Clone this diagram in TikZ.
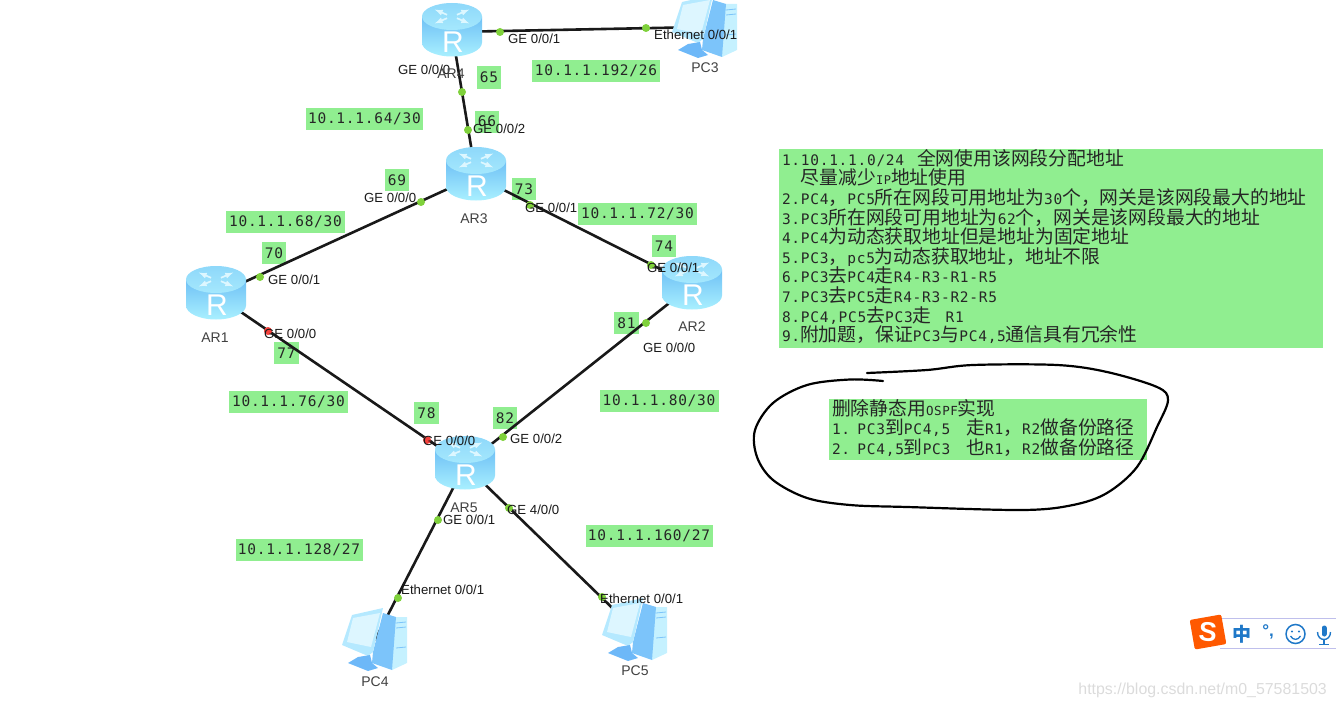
\documentclass[tikz,border=0pt]{standalone}
\usepackage{fontspec}
\setmainfont{Liberation Sans}
\newfontfamily\cjk{Noto Sans CJK SC}
\newfontfamily\monof[LetterSpace=5]{DejaVu Sans Mono}
\setlength{\lineskiplimit}{-100pt}
\newcommand\C[1]{{\cjk\fontsize{18.8}{19.5}\selectfont #1}}
\definecolor{lab}{HTML}{90EE90}
\definecolor{portg}{HTML}{7FD13B}
\definecolor{portr}{HTML}{F5413C}
\definecolor{pcmid}{HTML}{7CC4FA}
\definecolor{pcdark}{HTML}{6DB8F8}
\definecolor{pcframe}{HTML}{B5E9FF}
\definecolor{pcscreen}{HTML}{DDF6FF}
\definecolor{pctower}{HTML}{C5F1FF}
\definecolor{imeblue}{HTML}{1F78C8}
\definecolor{rtop}{HTML}{6FC0F5}
\definecolor{rbot}{HTML}{A9F0FF}
\definecolor{rlid}{HTML}{A5E8FD}
\definecolor{rlidb}{HTML}{8ED8FA}
\definecolor{rarrow}{HTML}{DDF7FF}
\tikzset{
  x=1pt,y=-1pt,
  glab/.style={fill=lab,inner sep=0pt,minimum height=22pt,text=black!85,font=\monof\fontsize{14.5}{18}\selectfont},
  gshort/.style={glab,minimum width=24.5pt},
  glong/.style={glab,minimum width=119pt},
  gxlong/.style={glab,minimum width=127pt},
  port/.style={anchor=west,inner sep=0pt,text=black!90,font=\fontsize{13.2}{15}\selectfont},
  devname/.style={inner sep=0pt,text=black!75,font=\fontsize{14}{16}\selectfont},
  holder/.style={inner sep=0pt,minimum width=60pt,minimum height=54pt},
  pcholder/.style={inner sep=0pt,minimum width=65pt,minimum height=62pt},
  link/.style={draw=black!90,line width=2.6pt},
  okdot/.style={circle,fill=portg,inner sep=0pt,minimum size=8pt},
  baddot/.style={circle,fill=portr,inner sep=0pt,minimum size=8pt},
  routericon/.pic={
    \path[top color=rtop,bottom color=rbot]
      (-30,-15.5) -- (-30,10.5) arc[start angle=180,end angle=0,x radius=30,y radius=14] -- (30,-15.5) -- cycle;
    \path[top color=rlidb,bottom color=rlid] (0,-15.5) ellipse[x radius=30,y radius=13.5];
    \foreach \a in {35,145,215,325}{
      \draw[rarrow,line width=1.7pt,-latex] ({6*cos(\a)},{-15.5+3*sin(\a)}) -- ({21*cos(\a)},{-15.5+12*sin(\a)});
    }
    \node[white,inner sep=0pt,font=\fontsize{30}{30}\selectfont] at (1,10) {R};
  },
  pcicon/.pic={
    \fill[pctower] (18,-23) -- (32,-23) -- (32,23) -- (17,30) -- cycle;
    \fill[pcmid] (8,-27) -- (21,-23) -- (17,30) -- (-3,23) -- (-2,12) -- cycle;
    \fill[pcframe] (-33,5) -- (-23,-25) -- (8,-32) -- (-2,12) -- (-7,16) -- cycle;
    \fill[pcscreen] (-28,2) -- (-22,-22) -- (5,-27) -- (-4,7) -- cycle;
    \draw[pcmid,line width=.8pt] (21,-17) -- (31,-18) (21,-12) -- (31,-13) (21,8) -- (31,7);
    \fill[pcdark] (-27,23) -- (-17,17) -- (-5,15) -- (-3,23) -- (3,28) -- (-7,31) -- cycle;
  },
}
\begin{document}
\begin{tikzpicture}
\useasboundingbox (0,0) rectangle (1336,709);
\clip (0,0) rectangle (1336,709);

% subnet and address tags
\node[glong,minimum width=128pt] (s192) at (596,71) {10.1.1.192/26};
\node[gshort] (a65) at (489,77.5) {65};
\node[glong,minimum width=117pt] (s64) at (364.5,118.5) {10.1.1.64/30};
\node[gshort] (a66) at (487,121.5) {66};
\node[gshort] (a69) at (397,180) {69};
\node[gshort] (a73) at (524,189) {73};
\node[glong] (s72) at (637.5,214) {10.1.1.72/30};
\node[glong] (s68) at (285.5,222) {10.1.1.68/30};
\node[gshort] (a70) at (274,253) {70};
\node[gshort] (a74) at (664,246) {74};
\node[gshort] (a81) at (626.5,323) {81};
\node[gshort] (a77) at (286.5,353) {77};
\node[glong] (s76) at (288.5,402) {10.1.1.76/30};
\node[glong] (s80) at (659,401) {10.1.1.80/30};
\node[gshort] (a78) at (426.5,413) {78};
\node[gshort] (a82) at (505,418) {82};
\node[gxlong] (s128) at (299,550) {10.1.1.128/27};
\node[gxlong] (s160) at (649,535.5) {10.1.1.160/27};

% device holders
\node[holder] (AR4) at (452,32) {};
\node[holder] (AR3) at (476,176) {};
\node[holder] (AR1) at (216,295) {};
\node[holder] (AR2) at (692,285) {};
\node[holder] (AR5) at (465,465) {};
\node[pcholder] (PC3) at (705,27) {};
\node[pcholder] (PC4) at (375,640) {};
\node[pcholder] (PC5) at (635,630) {};

% links
\draw[link] (AR4.center) -- (PC3.center);
\draw[link] (AR4.center) -- (AR3.center);
\draw[link] (AR3.center) -- (AR1.center);
\draw[link] (AR3.center) -- (AR2.center);
\draw[link] (AR1.center) -- (AR5.center);
\draw[link] (AR2.center) -- (AR5.center);
\draw[link] (AR5.center) -- (PC4.center);
\draw[link] (AR5.center) -- (PC5.center);

% icons
\foreach \n in {AR4,AR3,AR1,AR2,AR5} \pic at (\n) {routericon};
\foreach \n in {PC3,PC4,PC5} \pic at (\n) {pcicon};

% port dots
\node[okdot] (d1) at (500,32) {};
\node[okdot] (d2) at (646,28) {};
\node[okdot] (d3) at (462,92) {};
\node[okdot] (d4) at (468,130) {};
\node[okdot] (d5) at (421,202) {};
\node[okdot] (d6) at (530,205) {};
\node[okdot] (d7) at (260,277) {};
\node[baddot] (d8) at (268,331) {};
\node[okdot] (d9) at (651,265) {};
\node[okdot] (d10) at (646,323) {};
\node[baddot] (d11) at (427,440) {};
\node[okdot] (d12) at (503,437) {};
\node[okdot] (d13) at (438,520) {};
\node[okdot] (d14) at (509,508) {};
\node[okdot] (d15) at (398,598) {};
\node[okdot] (d16) at (602,597) {};

% port labels
\node[port] (p1) at (508,39) {GE 0/0/1};
\node[port] (p2) at (654,35) {Ethernet 0/0/1};
\node[port] (p3) at (398,70) {GE 0/0/0};
\node[port] (p4) at (473,129) {GE 0/0/2};
\node[port] (p5) at (364,198) {GE 0/0/0};
\node[port] (p6) at (525,208) {GE 0/0/1};
\node[port] (p7) at (268,280) {GE 0/0/1};
\node[port] (p8) at (264,334) {GE 0/0/0};
\node[port] (p9) at (647,268) {GE 0/0/1};
\node[port] (p10) at (643,348) {GE 0/0/0};
\node[port] (p11) at (423,441) {GE 0/0/0};
\node[port] (p12) at (510,439) {GE 0/0/2};
\node[port] (p13) at (443,520) {GE 0/0/1};
\node[port] (p14) at (507,510) {GE 4/0/0};
\node[port] (p15) at (401,590) {Ethernet 0/0/1};
\node[port] (p16) at (600,599) {Ethernet 0/0/1};

% device names
\node[devname] (n4) at (451,74) {AR4};
\node[devname] (n3) at (474,219) {AR3};
\node[devname] (n1) at (215,338) {AR1};
\node[devname] (n2) at (692,327) {AR2};
\node[devname] (n5) at (464,508) {AR5};
\node[devname] (np3) at (705,68) {PC3};
\node[devname] (np4) at (375,682) {PC4};
\node[devname] (np5) at (635,671) {PC5};

% requirement box
\node[fill=lab,inner xsep=3pt,inner ysep=0pt,minimum height=197pt,text width=538pt,align=left,text=black!85,
      font=\monof\fontsize{14.5}{19.6}\selectfont] (req) at (1051,248.5) {%
1.10.1.1.0/24\hspace{13pt}\C{全网使用该网段分配地址}\\
\hspace*{1.3em}\C{尽量减少}{\fontsize{12}{19.6}\selectfont IP}\C{地址使用}\\
2.PC4\C{，}PC5\C{所在网段可用地址为}30\C{个，网关是该网段最大的地址}\\
3.PC3\C{所在网段可用地址为}62\C{个，网关是该网段最大的地址}\\
4.PC4\C{为动态获取地址但是地址为固定地址}\\
5.PC3\C{，}pc5\C{为动态获取地址，地址不限}\\
6.PC3\C{去}PC4\C{走}R4-R3-R1-R5\\
7.PC3\C{去}PC5\C{走}R4-R3-R2-R5\\
8.PC4,PC5\C{去}PC3\C{走}\hspace{14pt}R1\\
9.\C{附加题，保证}PC3\C{与}PC4,5\C{通信具有冗余性}\par\vspace{4pt}};

% OSPF box
\node[fill=lab,inner xsep=3pt,inner ysep=0pt,minimum height=61pt,text width=312pt,align=left,text=black!85,
      font=\monof\fontsize{14.5}{19.8}\selectfont] (ospf) at (988,429.5) {%
\C{删除静态用}{\fontsize{12.5}{19.8}\selectfont OSPF}\C{实现}\\
1. PC3\C{到}PC4,5\hspace{16pt}\C{走}R1\C{，}R2\C{做备份路径}\\
2. PC4,5\C{到}PC3\hspace{16pt}\C{也}R1\C{，}R2\C{做备份路径}\par\vspace{3pt}};

% hand-drawn ring
\draw[black,line width=2.2pt,line cap=round] plot[smooth,tension=.55] coordinates {
 (883,381) (850,379.5) (807,385) (773,403) (755,430) (757,457) (773,480) (807,498) (850,505)
 (907,507) (1023,510) (1073,505) (1107,493) (1137,467) (1157,427) (1168,400) (1157,387)
 (1107,372) (1057,365) (973,365) (927,370) (867,373)};

% input method bar
\draw[black!30!blue!25!white,line width=.8pt] (1220,618) -- (1336,618) (1220,648) -- (1336,648);
\node[rotate=10,fill=orange!70!red,rounded corners=2pt,inner sep=0pt,minimum width=32pt,minimum height=30pt] (imelogo) at (1208,632) {};
\node[rotate=-5,text=white,inner sep=0pt,font=\bfseries\fontsize{27}{27}\selectfont] (imeS) at (imelogo) {S};
\node[text=imeblue,inner sep=0pt,font=\cjk\bfseries\fontsize{19}{19}\selectfont] (imezh) at (1242,634) {中};
\node[text=imeblue,inner sep=0pt,font=\bfseries\fontsize{17}{17}\selectfont] (imep) at (1268,632) {°,};
\node[draw=imeblue,line width=1.5pt,circle,inner sep=0pt,minimum size=19pt] (imef) at (1295.5,634) {};
\fill[imeblue] (1292,631.5) circle[radius=1.2] (1299,631.5) circle[radius=1.2];
\draw[imeblue,line width=1.3pt] (1290.5,636) .. controls (1293,640.5) and (1298,640.5) .. (1300.5,636);
\draw[imeblue,line width=5pt,line cap=round] (1324,628) -- (1324,634);
\draw[imeblue,line width=1.4pt] (1317.5,632) .. controls (1317.5,642) and (1330.5,642) .. (1330.5,632);
\draw[imeblue,line width=1.8pt] (1324,640) -- (1324,644) (1319,644.5) -- (1329,644.5);

% watermark
\node[anchor=east,inner sep=0pt,text=black!14,font=\fontsize{15.9}{18}\selectfont] (wm) at (1327,690) {https://blog.csdn.net/m0\_57581503};
\end{tikzpicture}
\end{document}
